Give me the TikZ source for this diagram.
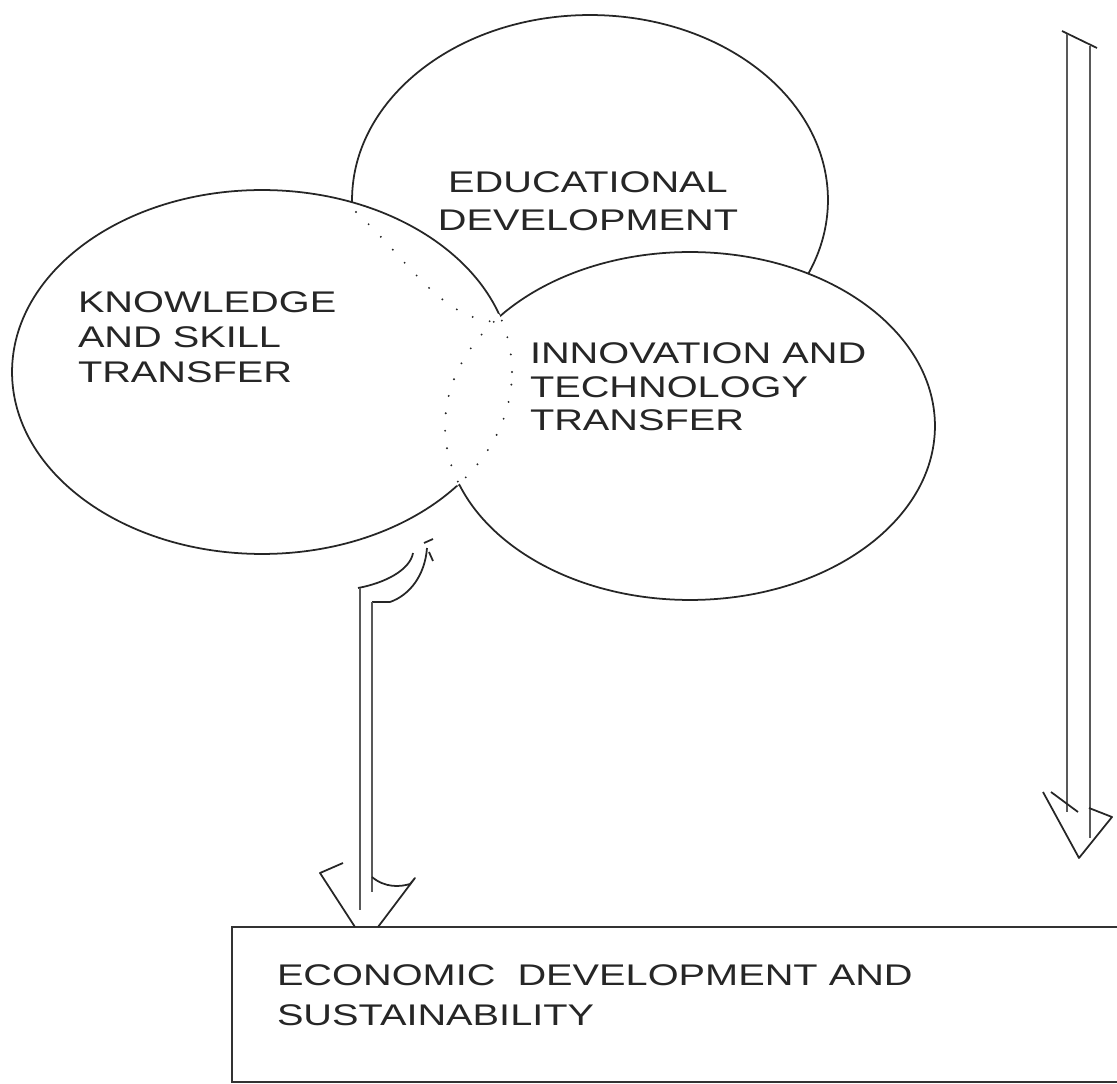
\documentclass[tikz,border=0pt]{standalone}
\usepackage{fontspec}
\setmainfont[FakeStretch=1.33]{Liberation Sans}
\usetikzlibrary{positioning}
\usetikzlibrary{shapes.geometric}

\begin{document}
\begin{tikzpicture}[x=0.02cm,y=-0.02cm,every node/.style={inner sep=0,outer sep=0,text=black!85},
    ring/.style={ellipse,draw=black!85,fill=white,line width=1pt},
    lbl/.style={anchor=north west,align=left},
    shaft/.style={draw=black!65,line width=1.5pt},
    head/.style={draw=black!85,line width=1pt,line join=round},
    hidden/.style={draw=black!85,line width=1.2pt,line cap=round,dash pattern=on 0pt off 10pt}]
    \useasboundingbox (0,0) rectangle (1117,1084);
    % the three rings
    \node[ring,minimum width=9.52cm,minimum height=7.4cm] (C1) at (590,200) {};
    \node[ring,minimum width=10cm,minimum height=7.28cm] (C2) at (262,372) {};
    \node[ring,minimum width=9.8cm,minimum height=6.96cm] (C3) at (690,426) {};
    % hidden outlines
    \begin{scope}
        \clip (C2.center) ellipse [x radius=5cm,y radius=3.64cm];
        \draw[white,line width=3pt] (C3.center) ellipse [x radius=4.9cm,y radius=3.48cm];
        \draw[hidden] (C3.center) ellipse [x radius=4.9cm,y radius=3.48cm];
    \end{scope}
    \begin{scope}
        \clip (C3.center) ellipse [x radius=4.9cm,y radius=3.48cm];
        \draw[hidden] (C2.center) ellipse [x radius=5cm,y radius=3.64cm];
    \end{scope}
    \draw[hidden] (356,212) .. controls (410,262) and (440,318) .. (496,322);
    % labels
    \node[lbl,align=center,anchor=north,font=\fontsize{17}{21.5}\selectfont] (T1) at (588,172) {EDUCATIONAL\\DEVELOPMENT};
    \node[lbl,font=\fontsize{17}{19.8}\selectfont] (T2) at (78,292) {KNOWLEDGE\\AND SKILL\\TRANSFER};
    \node[lbl,font=\fontsize{17}{19}\selectfont] (T3) at (530,343) {INNOVATION AND\\TECHNOLOGY\\TRANSFER};
    % outcome box
    \node[draw=black!80,line width=1.2pt,anchor=north west,minimum width=18cm,minimum height=3.1cm] (B) at (232,927) {};
    \node[lbl,font=\fontsize{17}{22.7}\selectfont] (T4) at (277,965) {ECONOMIC\ \ DEVELOPMENT AND\\SUSTAINABILITY};
    % left arrow, rings to box
    \draw[head] (358,588) .. controls (385,583) and (410,570) .. (413,553);
    \draw[head] (372,602) -- (390,602) .. controls (410,595) and (425,575) .. (427,548);
    \draw[head] (424,543) -- (433,539) (429,552) -- (433,561);
    \draw[shaft] (360,588) -- (360,910);
    \draw[shaft] (372,602) -- (372,892);
    \draw[head] (343,863) -- (320,873) -- (355,927);
    \draw[head] (372,877) .. controls (385,888) and (400,887) .. (410,884) -- (415,878) -- (378,927);
    % right arrow
    \draw[head] (1062,31) -- (1097,48);
    \draw[shaft] (1067,34) -- (1067,812);
    \draw[shaft] (1090,46) -- (1090,838);
    \draw[head] (1043,792) -- (1079,858) -- (1112,817) -- (1089,808);
    \draw[head] (1051,792) -- (1078,812);
\end{tikzpicture}
\end{document}
